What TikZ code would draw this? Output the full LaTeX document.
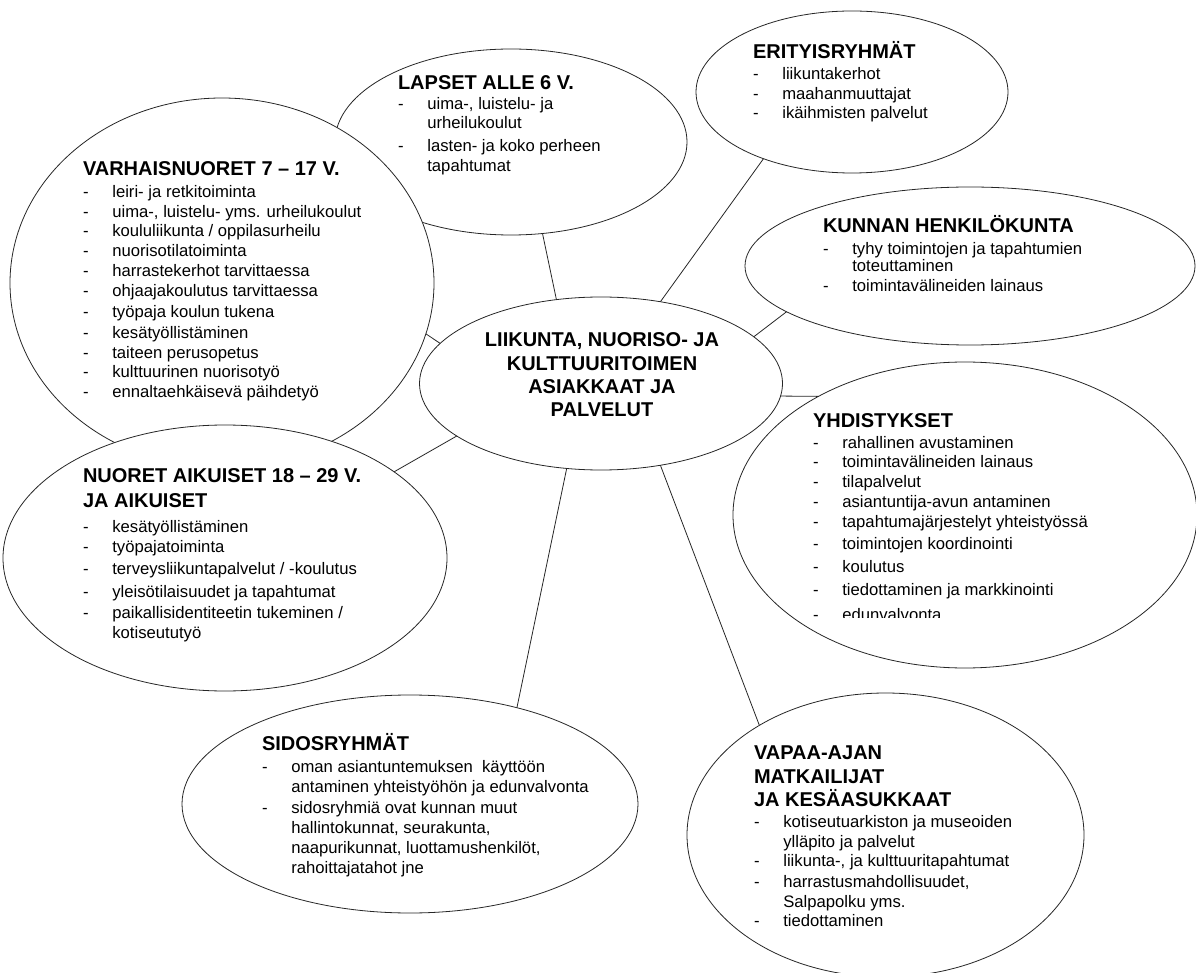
\documentclass[tikz,border=0pt]{standalone}
\usepackage{fontspec}
\setmainfont{Liberation Sans}
\usetikzlibrary{shapes.geometric}

\newcommand{\bodyfont}{\fontsize{12.5}{15}\selectfont}
\newcommand{\hdfont}{\fontsize{15}{18}\selectfont\bfseries}
\newcommand{\HD}[1]{\hbox{\hdfont #1}}
\newcommand{\IT}[1]{\hbox{\makebox[22pt][l]{-}#1}}
\newcommand{\CT}[1]{\hbox{\hspace{22pt}#1}}
\newcommand{\CL}[1]{\hbox to 0pt{\hss #1\hss}}
\newcommand{\G}[1]{\kern #1pt\relax}
\newcommand{\BLK}[1]{\vtop{\bodyfont\lineskiplimit=-\maxdimen\lineskip=0pt #1}}

\tikzset{
  ell/.style 2 args={ellipse, draw=black!85, fill=white, line width=0.6pt, inner sep=0pt, outer sep=0pt,
    minimum width={#1*1.5pt}, minimum height={#2*1.5pt}},
  txt/.style={anchor=base west, inner sep=0pt, outer sep=0pt},
  link/.style={draw=black!85, line width=0.6pt}
}

\begin{document}
\begin{tikzpicture}[x=0.75pt,y=-0.75pt]
\useasboundingbox (0,0) rectangle (1196,973);

% ellipses (drawing order matters for overlaps)
\node[ell={176}{93}] (lap) at (511,142) {};
\node[ell={212}{185}] (var) at (222,283) {};
\node[ell={222}{133}] (nuo) at (225,558) {};
\node[ell={156}{81}] (eri) at (852,92) {};
\node[ell={225}{79}] (kun) at (970,266) {};
\node[ell={181.5}{86.5}] (cen) at (601,383.5) {};
\node[ell={232}{153}] (yhd) at (965,515) {};
\node[ell={228}{109}] (sid) at (410,804) {};
\node[ell={198.5}{142}] (vap) at (885.5,835) {};

% texts
\node[anchor=base, inner sep=0pt] (cent) at (602,347) {\vtop{\hdfont\baselineskip=17.5pt\lineskiplimit=-\maxdimen
  \CL{LIIKUNTA, NUORISO- JA}\CL{KULTTUURITOIMEN}\CL{ASIAKKAAT JA}\CL{PALVELUT}}};

\node[txt] (lapt) at (398,90) {\BLK{\HD{LAPSET ALLE 6 V.}
  \IT{uima-, luistelu- ja}
  \G{-0.75}\CT{urheilukoulut}
  \G{2.25}\IT{lasten- ja koko perheen}
  \CT{tapahtumat}}};

\node[txt] (erit) at (753,59) {\BLK{\HD{ERITYISRYHMÄT}
  \G{0.75}\IT{liikuntakerhot}
  \IT{maahanmuuttajat}
  \G{-0.75}\IT{ikäihmisten palvelut}}};

\node[txt] (kunt) at (823,233) {\BLK{\HD{KUNNAN HENKILÖKUNTA}
  \G{1.5}\IT{tyhy toimintojen ja tapahtumien}
  \G{-2.25}\CT{toteuttaminen}
  \IT{toimintavälineiden lainaus}}};

\node[txt] (vart) at (83,176) {\BLK{\HD{VARHAISNUORET 7 – 17 V.}
  \G{1.5}\IT{leiri- ja retkitoiminta}
  \IT{uima-, luistelu- yms. urheilukoulut}
  \G{-0.75}\IT{koululiikunta / oppilasurheilu}
  \IT{nuorisotilatoiminta}
  \IT{harrastekerhot tarvittaessa}
  \IT{ohjaajakoulutus tarvittaessa}
  \G{0.75}\IT{työpaja koulun tukena}
  \G{0.75}\IT{kesätyöllistäminen}
  \IT{taiteen perusopetus}
  \G{-0.75}\IT{kulttuurinen nuorisotyö}
  \IT{ennaltaehkäisevä päihdetyö}}};

\begin{scope}
\clip (700,360) rectangle (1196,617);
\node[txt] (yhdt) at (813,428) {\BLK{\HD{YHDISTYKSET}
  \G{0.75}\IT{rahallinen avustaminen}
  \G{-0.75}\IT{toimintavälineiden lainaus}
  \IT{tilapalvelut}
  \IT{asiantuntija-avun antaminen}
  \IT{tapahtumajärjestelyt yhteistyössä}
  \G{1.5}\IT{toimintojen koordinointi}
  \G{2.25}\IT{koulutus}
  \G{2.25}\IT{tiedottaminen ja markkinointi}
  \G{3.75}\IT{edunvalvonta}}};
\end{scope}

\node[txt] (nuot) at (83,483) {\BLK{\HD{NUORET AIKUISET 18 – 29 V.}
  \G{3.75}\HD{JA AIKUISET}
  \G{3}\IT{kesätyöllistäminen}
  \IT{työpajatoiminta}
  \G{2.25}\IT{terveysliikuntapalvelut / -koulutus}
  \G{1.5}\IT{yleisötilaisuudet ja tapahtumat}
  \G{1.5}\IT{paikallisidentiteetin tukeminen /}
  \G{-0.75}\CT{kotiseututyö}}};

\node[txt] (sidt) at (262,750) {\BLK{\HD{SIDOSRYHMÄT}
  \G{1.5}\IT{oman asiantuntemuksen~ käyttöön}
  \CT{antaminen yhteistyöhön ja edunvalvonta}
  \G{0.75}\IT{sidosryhmiä ovat kunnan muut}
  \CT{hallintokunnat, seurakunta,}
  \CT{naapurikunnat, luottamushenkilöt,}
  \CT{rahoittajatahot jne}}};

\node[txt] (vapt) at (754,759) {\BLK{\HD{VAPAA-AJAN}
  \G{3}\HD{MATKAILIJAT}
  \G{2.25}\HD{JA KESÄASUKKAAT}
  \G{0.75}\IT{kotiseutuarkiston ja museoiden}
  \CT{ylläpito ja palvelut}
  \G{-0.75}\IT{liikunta-, ja kulttuuritapahtumat}
  \G{0.75}\IT{harrastusmahdollisuudet,}
  \CT{Salpapolku yms.}
  \G{-0.75}\IT{tiedottaminen}}};

% connectors
\draw[link] (lap.-71.6) -- (cen.118.5);
\draw[link] (eri.-143.3) -- (cen.54.8);
\draw[link] (kun.-166.5) -- (cen.17.5);
\draw[link] (yhd.141.4) -- (cen.-4.3);
\draw[link] (vap.139.7) -- (cen.-54.8);
\draw[link] (sid.42.5) -- (cen.-112.8);
\draw[link] (nuo.27) -- (cen.-160.6);
\draw[link] (var.-14.8) -- (cen.166.8);
\end{tikzpicture}
\end{document}
